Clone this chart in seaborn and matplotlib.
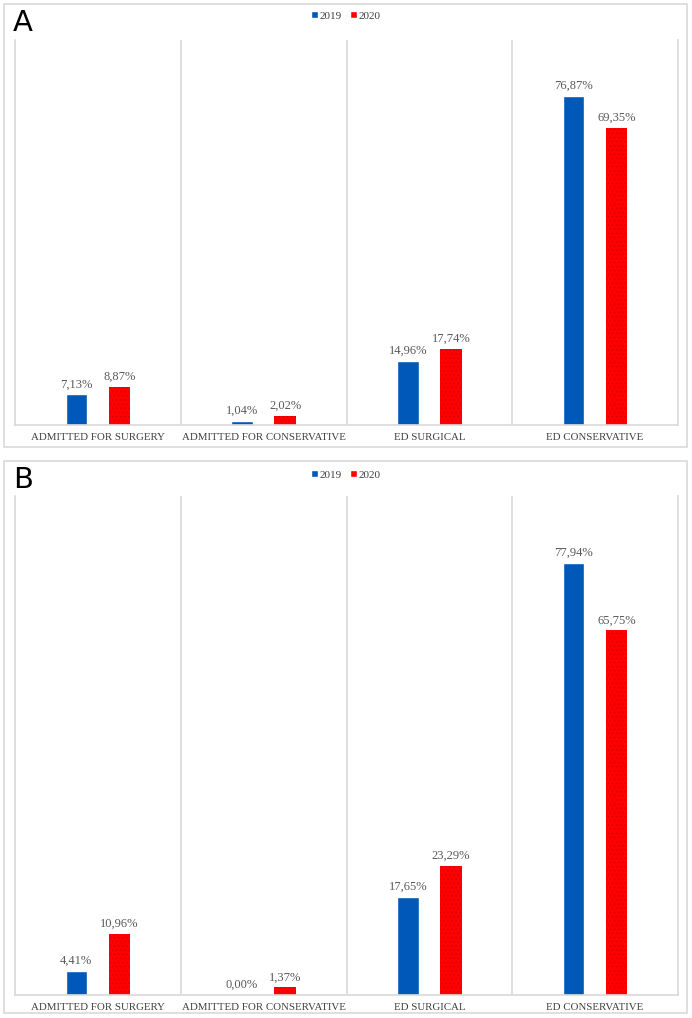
import pandas as pd
import matplotlib.pyplot as plt
import seaborn as sns
from matplotlib.patches import Rectangle, Patch

# Данные
categories = ["ADMITTED FOR SURGERY", "ADMITTED FOR CONSERVATIVE", "ED SURGICAL", "ED CONSERVATIVE"]
years = ["2019", "2020"]
panel_a_2019 = [7.13, 1.04, 14.96, 76.87]
panel_a_2020 = [8.87, 2.02, 17.74, 69.35]
panel_b_2019 = [4.41, 0.00, 17.65, 77.94]
panel_b_2020 = [10.96, 1.37, 23.29, 65.75]

blue = "#0058B8"
red = "#FF0000"
grey_line = "#D9D9D9"
text_grey = "#595959"

sns.set_style("white")
plt.rcParams["font.family"] = ["Liberation Serif", "DejaVu Serif"]
plt.rcParams["hatch.linewidth"] = 0.5


def make_df(v2019, v2020):
    return pd.DataFrame({
        "category": categories * 2,
        "year": [years[0]] * 4 + [years[1]] * 4,
        "value": v2019 + v2020,
    })


fig = plt.figure(figsize=(6.92, 10.18), dpi=100)

# Рамки вокруг панелей
W, H = 692, 1018
for (x0, y0, x1, y1) in [(4, 4, 687, 447), (4, 461, 687, 1013)]:
    fig.add_artist(Rectangle((x0 / W, 1 - y1 / H), (x1 - x0) / W, (y1 - y0) / H,
                             transform=fig.transFigure, fill=False,
                             edgecolor=grey_line, linewidth=1.2))

panels = [
    ("A", make_df(panel_a_2019, panel_a_2020), (15, 40, 678, 425), 23, 16),
    ("B", make_df(panel_b_2019, panel_b_2020), (15, 496, 678, 995), 480, 475),
]

for letter, df, (l, t, r, b), letter_y, legend_y in panels:
    ax = fig.add_axes([l / W, 1 - b / H, (r - l) / W, (b - t) / H])
    sns.barplot(data=df, x="category", y="value", hue="year",
                palette=[blue, red], saturation=1, width=0.52, gap=0.5,
                errorbar=None, ax=ax, legend=False)

    # Штриховка красных столбцов
    for bar in ax.containers[1]:
        bar.set_hatch("....")
        bar.set_edgecolor("#D40000")
        bar.set_linewidth(0)

    for cont in ax.containers:
        ax.bar_label(cont, labels=[f"{v:.2f}%".replace(".", ",") for v in cont.datavalues],
                     padding=3, fontsize=9, color=text_grey)

    ax.set_ylim(0, 90)
    ax.set_xlim(-0.5, 3.5)
    ax.set_yticks([])
    ax.set_xlabel("")
    ax.set_ylabel("")
    for x in [0.5, 1.5, 2.5]:
        ax.axvline(x, color=grey_line, linewidth=1.2, zorder=0)
    for side in ["left", "right", "bottom"]:
        ax.spines[side].set_color(grey_line)
        ax.spines[side].set_linewidth(1.2)
    ax.spines["top"].set_visible(False)
    ax.tick_params(axis="x", length=0, pad=6)
    ax.set_xticks(range(4))
    ax.set_xticklabels(categories, fontsize=7.8, color="#404040")

    fig.text(13 / W, 1 - letter_y / H, letter, fontsize=21, family="DejaVu Sans",
             va="center", ha="left", color="black")

    handles = [Patch(facecolor=blue, label="2019"),
               Patch(facecolor=red, label="2020")]
    fig.legend(handles=handles, loc="center", bbox_to_anchor=(346 / W, 1 - legend_y / H),
               ncol=2, frameon=False, fontsize=8, handlelength=0.6, handleheight=0.6,
               handletextpad=0.2, columnspacing=0.7, labelcolor="#404040")

fig.savefig("out.png", dpi=100)
